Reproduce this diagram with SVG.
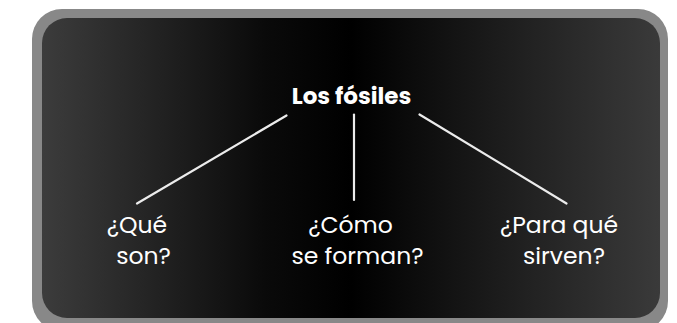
<svg xmlns="http://www.w3.org/2000/svg" width="677" height="323" viewBox="0 0 677 323">
  <defs>
    <linearGradient id="bg" x1="0" y1="0" x2="1" y2="0">
      <stop offset="0" stop-color="#3c3c3c"/>
      <stop offset="0.36" stop-color="#0a0a0a"/>
      <stop offset="0.5" stop-color="#000000"/>
      <stop offset="0.62" stop-color="#0e0e0e"/>
      <stop offset="1" stop-color="#3a3a3a"/>
    </linearGradient>
  </defs>
  <style>
    .t { fill: #ffffff; font-family: "Poppins", "DejaVu Sans", sans-serif; font-size: 23.5px; text-anchor: middle; }
    .title { font-weight: bold; font-size: 23px; }
    .c { stroke: #ececec; stroke-width: 2.2; stroke-linecap: round; fill: none; }
  </style>
  <rect width="677" height="323" fill="#ffffff"/>
  <g id="frame">
    <rect x="32" y="9" width="636" height="322" rx="30" fill="#888888"/>
    <rect x="42" y="18" width="618" height="300" rx="25" fill="url(#bg)"/>
  </g>
  <g id="connectors">
    <line class="c" x1="286.5" y1="115.5" x2="137" y2="203.5"/>
    <line class="c" x1="354" y1="114.5" x2="354" y2="200"/>
    <line class="c" x1="419.5" y1="114.5" x2="566.5" y2="203.5"/>
  </g>
  <g id="node-root">
    <text class="t title" x="351.5" y="104">Los fósiles</text>
  </g>
  <g id="node-que">
    <text class="t" x="137" y="233">¿Qué</text>
    <text class="t" x="143.5" y="263.5">son?</text>
  </g>
  <g id="node-como">
    <text class="t" x="350.5" y="233">¿Cómo</text>
    <text class="t" x="357.5" y="263.5">se forman?</text>
  </g>
  <g id="node-para">
    <text class="t" x="559" y="233">¿Para qué</text>
    <text class="t" x="564" y="263.5">sirven?</text>
  </g>
</svg>
